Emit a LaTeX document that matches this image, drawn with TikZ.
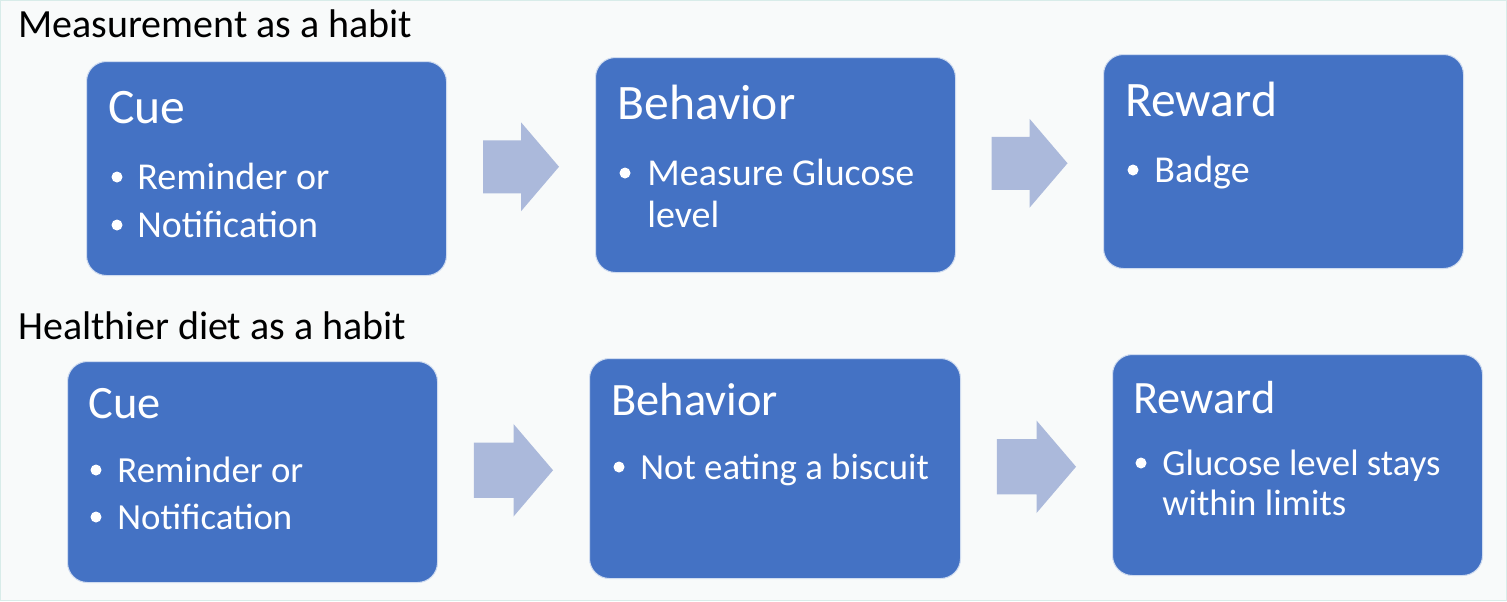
\documentclass[tikz,border=0pt]{standalone}
\usepackage{fontspec}
\setmainfont{Carlito}
\usetikzlibrary{calc}
\definecolor{boxblue}{HTML}{4472C4}
\definecolor{arrowblue}{HTML}{ABB9DB}
\definecolor{backgr}{HTML}{F8FAFA}
\definecolor{framecol}{HTML}{D8ECE9}

\begin{document}
\begin{tikzpicture}[x=0.5pt,y=-0.5pt,
	habit/.style={draw=white!75!boxblue,line width=0.5pt,fill=boxblue,rounded corners=10pt,anchor=north west,inner sep=0pt},
	heading/.style={anchor=base west,inner sep=0pt,text=white,font=\fontsize{#1}{28}\selectfont},
	heading/.default=24.8,
	item/.style={anchor=base west,inner sep=0pt,text=white,font=\fontsize{#1}{22}\selectfont},
	item/.default=19,
	dot/.style={circle,fill=white,inner sep=0pt,minimum size=5.5pt},
	title/.style={anchor=base west,inner sep=0pt,font=\fontsize{20}{24}\selectfont},
	harrow/.pic={\fill[arrowblue] (-38,-26.5) -- (0,-26.5) -- (0,-44.5) -- (38,0) -- (0,44.5) -- (0,26.5) -- (-38,26.5) -- cycle;}]
\useasboundingbox (0,0) rectangle (1507,601);
\fill[backgr] (0,0) rectangle (1507,601);
\draw[framecol,line width=0.5pt] (0.5,0.5) rectangle (1506.5,600.5);

%Titres
\node[title] (titleA) at (18,37) {Measurement as a habit};
\node[title] (titleB) at (18,339) {Healthier diet as a habit};

%Boites, ligne 1
\node[habit,minimum width=180pt,minimum height=107pt] (cueA) at (86,61) {};
\node[habit,minimum width=180pt,minimum height=107.5pt] (behA) at (595,57) {};
\node[habit,minimum width=180pt,minimum height=107pt] (rewA) at (1103,54) {};

%Boites, ligne 2
\node[habit,minimum width=185pt,minimum height=110.5pt] (cueB) at (67,361) {};
\node[habit,minimum width=185.5pt,minimum height=110pt] (behB) at (589,358) {};
\node[habit,minimum width=185pt,minimum height=110.5pt] (rewB) at (1112,354) {};

%Textes, ligne 1
\node[heading] (cueAhead) at ($(cueA.north west)+(22,62)$) {Cue};
\node[dot] (cueAdot1) at ($(cueA.north west)+(31,116)$) {};
\node[item] (cueAitem1) at ($(cueA.north west)+(51,128)$) {Reminder or};
\node[dot] (cueAdot2) at ($(cueA.north west)+(31,164)$) {};
\node[item] (cueAitem2) at ($(cueA.north west)+(51,176)$) {Notification};

\node[heading] (behAhead) at ($(behA.north west)+(22,62)$) {Behavior};
\node[dot] (behAdot) at ($(behA.north west)+(30,116)$) {};
\node[item] (behAitem1) at ($(behA.north west)+(52,128)$) {Measure Glucose};
\node[item] (behAitem2) at ($(behA.north west)+(52,170)$) {level};

\node[heading] (rewAhead) at ($(rewA.north west)+(22,62)$) {Reward};
\node[dot] (rewAdot) at ($(rewA.north west)+(30,116)$) {};
\node[item] (rewAitem) at ($(rewA.north west)+(51,128)$) {Badge};

%Textes, ligne 2
\node[heading=23.2] (cueBhead) at ($(cueB.north west)+(21,57)$) {Cue};
\node[dot] (cueBdot1) at ($(cueB.north west)+(29,109)$) {};
\node[item=18.4] (cueBitem1) at ($(cueB.north west)+(50,121)$) {Reminder or};
\node[dot] (cueBdot2) at ($(cueB.north west)+(29,156)$) {};
\node[item=18.4] (cueBitem2) at ($(cueB.north west)+(50,168)$) {Notification};

\node[heading=23.2] (behBhead) at ($(behB.north west)+(22,57)$) {Behavior};
\node[dot] (behBdot) at ($(behB.north west)+(30,109)$) {};
\node[item=18.4] (behBitem) at ($(behB.north west)+(51,121)$) {Not eating a biscuit};

\node[heading=23.2] (rewBhead) at ($(rewB.north west)+(21,59)$) {Reward};
\node[dot] (rewBdot) at ($(rewB.north west)+(29,109)$) {};
\node[item=18.4] (rewBitem1) at ($(rewB.north west)+(50,121)$) {Glucose level stays};
\node[item=18.4] (rewBitem2) at ($(rewB.north west)+(50,161)$) {within limits};

%Fleches
\pic at ($(cueA.east)!0.5!(behA.west)$) {harrow};
\pic at ($(behA.east)!0.5!(rewA.west)$) {harrow};
\pic[scale=1.04] at ($(cueB.east)!0.5!(behB.west)$) {harrow};
\pic[scale=1.04] at ($(behB.east)!0.5!(rewB.west)$) {harrow};

\end{tikzpicture}
\end{document}
